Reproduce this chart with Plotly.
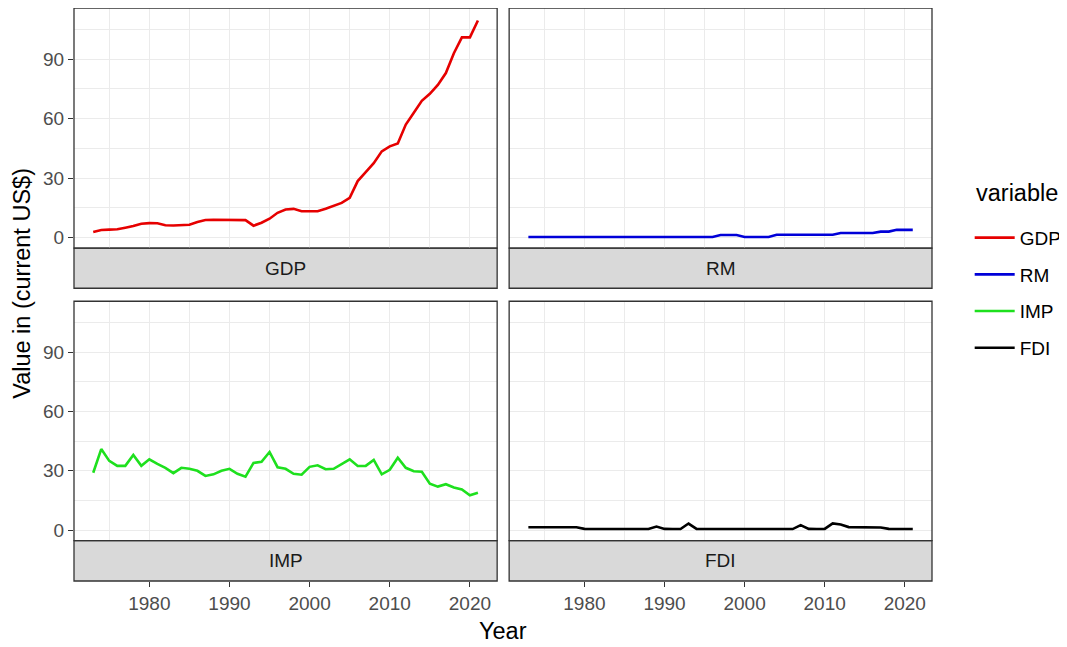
import plotly.graph_objects as go

years = list(range(1973, 2022))

gdp = [2.8, 3.8, 4.0, 4.2, 5.0, 5.8, 7.0, 7.3, 7.2, 6.2,
       6.1, 6.2, 6.5, 7.8, 8.9, 9.0, 9.0, 9.0, 9.0, 8.8,
       6.0, 7.5, 9.5, 12.5, 14.2, 14.5, 13.3, 13.2, 13.3, 14.5,
       16.0, 17.5, 20.0, 28.5, 33.0, 37.5, 43.5, 46.0, 47.5, 57.0,
       63.0, 69.0, 72.5, 77.0, 83.0, 93.0, 101.0, 101.0, 109.5]

rm = [0.3, 0.3, 0.3, 0.3, 0.3, 0.3, 0.3, 0.3, 0.3, 0.3,
      0.3, 0.3, 0.3, 0.3, 0.3, 0.3, 0.3, 0.3, 0.3, 0.3,
      0.3, 0.3, 0.3, 0.3, 1.3, 1.3, 1.3, 0.3, 0.3, 0.3,
      0.3, 1.4, 1.4, 1.4, 1.4, 1.4, 1.4, 1.4, 1.4, 2.3,
      2.3, 2.3, 2.3, 2.3, 3.0, 3.0, 3.9, 3.9, 3.9]

imp = [29.0, 41.0, 35.0, 32.5, 32.5, 38.0, 32.5, 35.8, 33.5, 31.5,
       28.8, 31.5, 31.0, 30.0, 27.4, 28.2, 30.0, 31.0, 28.5, 27.0,
       34.0, 34.5, 39.5, 31.8, 31.0, 28.5, 28.0, 32.0, 32.8, 30.8,
       31.0, 33.5, 35.8, 32.4, 32.5, 35.5, 28.2, 30.5, 36.6, 31.5,
       29.8, 29.5, 23.5, 22.0, 23.2, 21.5, 20.5, 17.6, 18.9]

fdi = [1.4, 1.4, 1.4, 1.4, 1.4, 1.4, 1.4, 0.6, 0.5, 0.5,
       0.5, 0.5, 0.5, 0.5, 0.5, 0.5, 1.8, 0.6, 0.5, 0.5,
       3.3, 0.6, 0.5, 0.5, 0.5, 0.5, 0.5, 0.5, 0.5, 0.5,
       0.5, 0.5, 0.5, 0.5, 2.5, 0.6, 0.5, 0.6, 3.4, 2.8,
       1.5, 1.4, 1.4, 1.4, 1.3, 0.6, 0.5, 0.5, 0.5]

variables = ["GDP", "RM", "IMP", "FDI"]
series = [gdp, rm, imp, fdi]
colors = ["#E60000", "#0000D8", "#1EE01E", "#000000"]

y_ticks = [0, 30, 60, 90]
x_ticks = [1980, 1990, 2000, 2010, 2020]

# The page body has an 8px margin; the figure is sized to fit the window.
OFF = 8
W, H = 1067 - OFF, 647 - OFF
# geometry in page pixels
plot_left, plot_right, plot_top, plot_bottom = 74, 932.3, 8, 581.5
ml = plot_left - OFF
mr = W - (plot_right - OFF)
mt = plot_top - OFF
mb = H - (plot_bottom - OFF)
pw = W - ml - mr
ph = H - mt - mb

def px_x(x):
    return (x - OFF - ml) / pw

def px_y(y):
    return (H - mb - (y - OFF)) / ph

xdom = [[0, px_x(497.3)], [px_x(509.3), 1]]
top_plot = [px_y(248.3), 1]
top_strip = [px_y(288.5), px_y(248.3)]
bot_plot = [px_y(541.0), px_y(301.5)]
bot_strip = [0, px_y(541.0)]

panels = [
    (xdom[0], top_plot, top_strip),
    (xdom[1], top_plot, top_strip),
    (xdom[0], bot_plot, bot_strip),
    (xdom[1], bot_plot, bot_strip),
]

FONT = "Liberation Sans, Arial"
fig = go.Figure()
grid_c = "#EBEBEB"
border_c = "#333333"
tick_font = dict(family=FONT, size=19, color="#4D4D4D")

shapes = []
annotations = []
for i, (name, vals, col) in enumerate(zip(variables, series, colors)):
    k = "" if i == 0 else str(i + 1)
    fig.add_trace(go.Scatter(
        x=years, y=vals, mode="lines", name=name,
        line=dict(color=col, width=2.6),
        xaxis="x" + k, yaxis="y" + k,
        legendgroup=name, showlegend=True,
    ))
    xd, yd, sd = panels[i]
    is_left = i in (0, 2)
    is_bottom = i in (2, 3)
    xa = dict(
        domain=xd, range=[1970.6, 2023.4], tickvals=x_ticks,
        showgrid=True, gridcolor=grid_c, gridwidth=1.3,
        minor=dict(showgrid=True, gridcolor=grid_c, gridwidth=0.8,
                   tickvals=[1975, 1985, 1995, 2005, 2015]),
        zeroline=False, showline=False,
        showticklabels=is_bottom, ticks="outside" if is_bottom else "",
        ticklen=5, tickwidth=1.2, tickcolor=border_c, tickfont=tick_font,
    )
    if is_bottom:
        xa.update(anchor="free", position=0)
    else:
        xa.update(anchor="y" + k)
    ya = dict(
        domain=yd, range=[-5.3, 115.8], tickvals=y_ticks,
        showgrid=True, gridcolor=grid_c, gridwidth=1.3,
        minor=dict(showgrid=True, gridcolor=grid_c, gridwidth=0.8,
                   tickvals=[15, 45, 75, 105]),
        zeroline=False, showline=False,
        showticklabels=is_left, ticks="outside" if is_left else "",
        ticklen=5, tickwidth=1.2, tickcolor=border_c, tickfont=tick_font,
        anchor="x" + k,
    )
    fig.layout["xaxis" + k] = xa
    fig.layout["yaxis" + k] = ya
    shapes.append(dict(type="rect", xref="paper", yref="paper",
                       x0=xd[0], x1=xd[1], y0=yd[0], y1=yd[1],
                       line=dict(color=border_c, width=1.3),
                       fillcolor="rgba(0,0,0,0)", layer="above"))
    shapes.append(dict(type="rect", xref="paper", yref="paper",
                       x0=xd[0], x1=xd[1], y0=sd[0], y1=sd[1],
                       line=dict(color=border_c, width=1.3),
                       fillcolor="#D9D9D9", layer="below"))
    annotations.append(dict(text=name, xref="paper", yref="paper",
                            x=(xd[0] + xd[1]) / 2, y=(sd[0] + sd[1]) / 2,
                            showarrow=False, xanchor="center", yanchor="middle",
                            font=dict(family=FONT, size=19, color="#1A1A1A")))

annotations.append(dict(text="Year", xref="paper", yref="paper",
                        x=px_x(503), y=px_y(632), showarrow=False,
                        xanchor="center", yanchor="middle",
                        font=dict(family=FONT, size=23.5, color="#000000")))
annotations.append(dict(text="Value in (current US$)", xref="paper", yref="paper",
                        x=px_x(22), y=px_y(284), showarrow=False, textangle=-90,
                        xanchor="center", yanchor="middle",
                        font=dict(family=FONT, size=23.5, color="#000000")))
annotations.append(dict(text="variable", xref="paper", yref="paper",
                        x=px_x(974), y=px_y(193), showarrow=False,
                        xanchor="left", yanchor="middle",
                        font=dict(family=FONT, size=23.5, color="#000000")))

fig.update_layout(
    width=W, height=H,
    margin=dict(l=ml, r=mr, t=mt, b=mb),
    plot_bgcolor="white", paper_bgcolor="white",
    shapes=shapes, annotations=annotations,
    showlegend=True,
    legend=dict(
        font=dict(family=FONT, size=19, color="#000000"),
        x=px_x(970), xanchor="left", y=px_y(219), yanchor="top",
        tracegroupgap=9, itemwidth=40, bgcolor="rgba(0,0,0,0)",
    ),
)

fig.write_html("out.html")
